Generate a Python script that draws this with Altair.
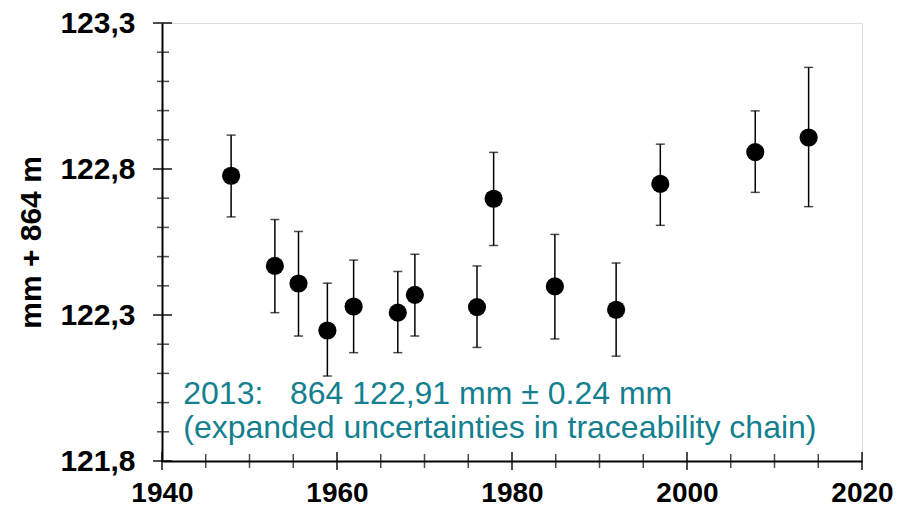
import altair as alt
import pandas as pd

# ---- data ----
years = [1947.9, 1952.9, 1955.6, 1958.9, 1961.9, 1966.95, 1968.9,
         1976.0, 1977.9, 1984.9, 1991.9, 1996.95, 2007.8, 2013.9]
values = [122.777, 122.468, 122.408, 122.247, 122.329, 122.308, 122.369,
          122.327, 122.698, 122.398, 122.318, 122.749, 122.858, 122.908]
upper = [122.916, 122.627, 122.586, 122.409, 122.488, 122.449, 122.508,
         122.468, 122.857, 122.576, 122.478, 122.885, 122.999, 123.148]
lower = [122.636, 122.308, 122.228, 122.091, 122.171, 122.171, 122.228,
         122.189, 122.538, 122.218, 122.159, 122.607, 122.720, 122.671]

y_major = [121.8, 122.3, 122.8, 123.3]
y_minor = [121.9, 122.0, 122.1, 122.2, 122.4, 122.5, 122.6, 122.7,
           122.9, 123.0, 123.1, 123.2]
x_major = [1940, 1960, 1980, 2000, 2020]
x_minor = [1945, 1950, 1955, 1965, 1970, 1975, 1985, 1990, 1995,
           2005, 2010, 2015]

note_lines = ["2013:\u00a0\u00a0\u00a0864 122,91 mm \u00b1 0.24 mm",
              "(expanded uncertainties in traceability chain)"]
note_x = [1942.43, 1942.43]
note_y = [121.995, 121.879]

W, H = 700, 438
FONT = "Liberation Sans"
TEAL = "#13808f"

df = pd.DataFrame({"year": years, "value": values, "hi": upper, "lo": lower})

xs = alt.Scale(domain=[1940, 2020], nice=False, zero=False)
ys = alt.Scale(domain=[121.8, 123.3], nice=False, zero=False)

xaxis = alt.Axis(values=x_major, format="d", ticks=False, tickSize=0, grid=False,
                 labelFont=FONT, labelFontSize=28, labelFontWeight="bold",
                 labelColor="black", labelPadding=40, labelBaseline="alphabetic",
                 domainColor="black", domainWidth=2, title=None, labelFlush=False)
yaxis = alt.Axis(values=y_major, ticks=False, tickSize=0, grid=False,
                 labelExpr="replace(format(datum.value, '.1f'), '.', ',')",
                 labelFont=FONT, labelFontSize=30, labelFontWeight="bold",
                 labelColor="black", labelPadding=27, domainColor="black",
                 domainWidth=2, labelFlush=False,
                 title="mm + 864 m", titleFont=FONT, titleFontSize=30,
                 titleFontWeight="bold", titleColor="black", titleAngle=-90,
                 titleX=-131, titleY=H / 2, titleAlign="center",
                 titleBaseline="middle")

base = alt.Chart(df)

points = base.mark_circle(size=330, color="black", opacity=1).encode(
    x=alt.X("year:Q", scale=xs, axis=xaxis),
    y=alt.Y("value:Q", scale=ys, axis=yaxis),
)
bars = base.mark_rule(color="black", strokeWidth=1.5).encode(
    x=alt.X("year:Q", scale=xs), y=alt.Y("lo:Q", scale=ys), y2="hi:Q")
cap_hi = base.mark_tick(color="black", size=9, thickness=1.5,
                        orient="horizontal").encode(
    x=alt.X("year:Q", scale=xs), y=alt.Y("hi:Q", scale=ys))
cap_lo = base.mark_tick(color="black", size=9, thickness=1.5,
                        orient="horizontal").encode(
    x=alt.X("year:Q", scale=xs), y=alt.Y("lo:Q", scale=ys))

ymaj = alt.Chart(pd.DataFrame({"v": y_major})).mark_tick(
    color="black", size=19, thickness=2).encode(
    y=alt.Y("v:Q", scale=ys), x=alt.value(0.5))
ymin = alt.Chart(pd.DataFrame({"v": y_minor})).mark_tick(
    color="black", size=12, thickness=1.5).encode(
    y=alt.Y("v:Q", scale=ys), x=alt.value(1))
xmaj = alt.Chart(pd.DataFrame({"v": x_major})).mark_tick(
    color="black", size=18, thickness=2).encode(
    x=alt.X("v:Q", scale=xs), y=alt.value(H))
xmin = alt.Chart(pd.DataFrame({"v": x_minor})).mark_tick(
    color="black", size=14, thickness=1.5).encode(
    x=alt.X("v:Q", scale=xs), y=alt.value(H))

note = alt.Chart(pd.DataFrame({"t": note_lines, "x": note_x, "y": note_y})).mark_text(
    font=FONT, fontSize=32, color=TEAL, align="left", baseline="alphabetic").encode(
    x=alt.X("x:Q", scale=xs), y=alt.Y("y:Q", scale=ys), text="t:N")

chart = alt.layer(bars, cap_hi, cap_lo, points, ymin, ymaj, xmin, xmaj, note).properties(
    width=W, height=H,
    autosize=alt.AutoSizeParams(type="none"),
    padding={"left": 154, "top": 15, "right": 32, "bottom": 46},
).configure_view(stroke=None).configure(background="white")

chart.save("out.html", embed_options={"renderer": "svg", "actions": False})
